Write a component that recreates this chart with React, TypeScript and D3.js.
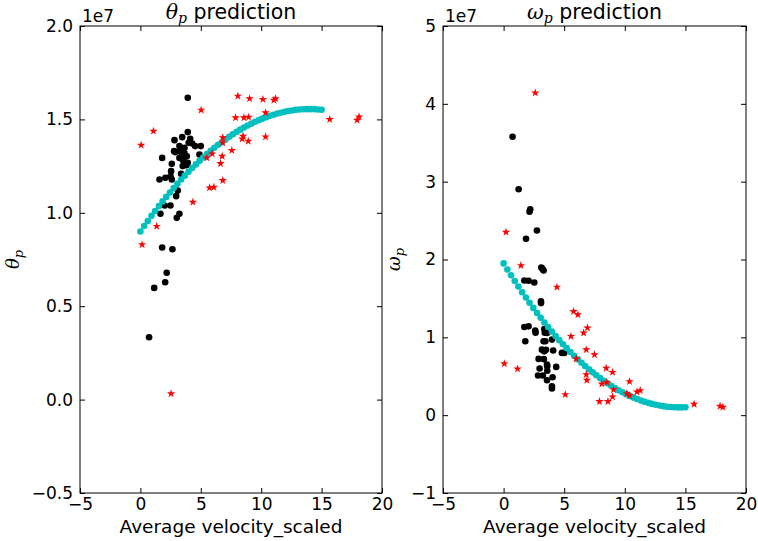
import React, { useRef, useEffect } from 'react';
import * as d3 from 'd3';

const WIDTH = 758;
const HEIGHT = 541;

// axis ticks
const xTicks = [-5, 0, 5, 10, 15, 20];
const thetaTicks = [-0.5, 0, 0.5, 1, 1.5, 2];
const thetaTickLabels = ['\u22120.5', '0.0', '0.5', '1.0', '1.5', '2.0'];
const omegaTicks = [-1, 0, 1, 2, 3, 4, 5];
const omegaTickLabels = ['\u22121', '0', '1', '2', '3', '4', '5'];

// fitted curve (values in 1e7)
const fitX = [
  0, 0.31, 0.61, 0.92, 1.22, 1.53, 1.84, 2.14, 2.45, 2.76, 3.06, 3.37, 3.67, 3.98, 4.29, 4.59, 4.9,
  5.2, 5.51, 5.82, 6.12, 6.43, 6.73, 7.04, 7.35, 7.65, 7.96, 8.27, 8.57, 8.88, 9.18, 9.49, 9.8,
  10.1, 10.41, 10.71, 11.02, 11.33, 11.63, 11.94, 12.24, 12.55, 12.86, 13.16, 13.47, 13.78, 14.08,
  14.39, 14.69, 15.0,
];
const thetaFit = [
  0.9, 0.929, 0.956, 0.984, 1.01, 1.036, 1.061, 1.085, 1.109, 1.133, 1.155, 1.178, 1.199, 1.22,
  1.24, 1.259, 1.278, 1.296, 1.314, 1.332, 1.348, 1.364, 1.378, 1.393, 1.407, 1.42, 1.433, 1.445,
  1.457, 1.467, 1.477, 1.487, 1.496, 1.504, 1.512, 1.519, 1.525, 1.531, 1.536, 1.541, 1.545, 1.548,
  1.551, 1.553, 1.554, 1.555, 1.555, 1.555, 1.553, 1.552,
];
const omegaFit = [
  1.95, 1.872, 1.798, 1.723, 1.652, 1.58, 1.511, 1.444, 1.378, 1.313, 1.252, 1.19, 1.132, 1.074,
  1.017, 0.964, 0.911, 0.861, 0.811, 0.763, 0.718, 0.673, 0.631, 0.59, 0.55, 0.513, 0.476, 0.441,
  0.409, 0.378, 0.349, 0.321, 0.294, 0.27, 0.247, 0.226, 0.207, 0.188, 0.172, 0.158, 0.145, 0.133,
  0.124, 0.116, 0.109, 0.105, 0.102, 0.1, 0.1, 0.102,
];

// theta_p: observed (black) and held out (red)
const thetaTrainX = [
  3.92, 3.92, 3.46, 4.12, 2.82, 4.29, 3.23, 3.65, 4.53, 5.0, 2.79, 3.23, 3.65, 3.46, 4.89, 3.84,
  3.23, 3.5, 1.8, 3.65, 3.92, 2.6, 3.5, 3.8, 2.54, 3.37, 1.58, 2.07, 2.49, 2.6, 3.09, 2.96, 2.01,
  2.49, 1.66, 3.23, 3.01, 1.8, 2.65, 2.18, 2.05, 1.14, 0.72, 4.0, 2.88, 3.57,
];
const thetaTrainY = [
  1.616, 1.432, 1.405, 1.396, 1.389, 1.371, 1.357, 1.348, 1.357, 1.357, 1.33, 1.33, 1.32, 1.312,
  1.312, 1.303, 1.294, 1.285, 1.294, 1.268, 1.268, 1.262, 1.25, 1.255, 1.223, 1.209, 1.178, 1.187,
  1.196, 1.178, 1.119, 1.089, 1.039, 1.039, 0.995, 0.995, 0.973, 0.814, 0.805, 0.679, 0.628, 0.598,
  0.334, 1.375, 1.325, 1.277,
];
const thetaTestX = [
  0.06, 1.08, 5.03, 1.35, 0.14, 4.34, 5.5, 5.94, 5.72, 6.08, 6.63, 6.77, 6.82, 6.82, 6.82, 7.57,
  8.07, 9.04, 7.88, 8.57, 8.96, 8.43, 8.5, 8.93, 10.14, 11.05, 11.19, 10.36, 10.36, 15.67, 17.94,
  18.1, 2.54,
];
const thetaTestY = [
  1.362, 1.437, 1.55, 0.928, 0.83, 1.057, 1.294, 1.316, 1.134, 1.137, 1.264, 1.303, 1.375, 1.402,
  1.173, 1.334, 1.625, 1.611, 1.509, 1.509, 1.512, 1.396, 1.41, 1.384, 1.607, 1.603, 1.611, 1.536,
  1.407, 1.5, 1.496, 1.514, 0.032,
];

// omega_p: observed (black) and held out (red)
const omegaTrainX = [
  0.74, 1.24, 2.14, 2.2, 2.75, 1.85, 3.11, 3.2, 3.3, 1.71, 2.06, 2.53, 3.08, 3.09, 1.71, 2.06, 2.61,
  2.64, 3.36, 1.79, 3.4, 3.44, 3.99, 3.16, 3.35, 3.5, 4.09, 4.81, 5.0, 2.89, 3.32, 3.58, 3.6, 2.97,
  4.34, 2.84, 3.24, 4.04, 3.58, 3.99, 3.99, 3.6, 3.58, 3.3,
];
const omegaTrainY = [
  3.577, 2.903, 2.615, 2.646, 2.372, 2.265, 1.897, 1.88, 1.859, 1.731, 1.727, 1.705, 1.462, 1.44,
  1.133, 1.141, 1.086, 1.06, 1.108, 0.949, 1.06, 0.949, 0.971, 0.842, 0.82, 0.84, 0.83, 0.8, 0.8,
  0.723, 0.72, 0.65, 0.63, 0.599, 0.62, 0.509, 0.51, 0.487, 0.449, 0.372, 0.342, 0.57, 1.056, 0.95,
];
const omegaTestX = [
  2.61, 0.2, 1.43, 4.4, 5.77, 6.13, 6.92, 6.6, 5.56, 6.82, 7.5, 5.99, 0.06, 1.15, 8.47, 8.99, 6.82,
  6.87, 10.39, 8.11, 8.52, 9.07, 10.17, 10.39, 11.0, 11.27, 5.09, 8.99, 7.91, 8.61, 15.72, 17.86,
  18.09,
];
const omegaTestY = [
  4.141, 2.351, 1.923, 1.646, 1.333, 1.291, 1.121, 1.056, 1.013, 0.842, 0.778, 0.723, 0.663, 0.595,
  0.603, 0.551, 0.522, 0.449, 0.432, 0.402, 0.423, 0.329, 0.278, 0.253, 0.3, 0.317, 0.265, 0.236,
  0.176, 0.176, 0.141, 0.115, 0.103,
];

const FONT = 'DejaVu Sans, sans-serif';
const MATH = 'DejaVu Serif, serif';

interface PanelSpec {
  left: number;
  right: number;
  top: number;
  bottom: number;
  yLabelX: number;
  yDomain: [number, number];
  yTicks: number[];
  yTickLabels: string[];
  symbol: string;
  fit: number[];
  trainX: number[];
  trainY: number[];
  testX: number[];
  testY: number[];
}

function drawPanel(svg: d3.Selection<SVGSVGElement, unknown, null, undefined>, p: PanelSpec) {
  const x = d3.scaleLinear().domain([-5, 20]).range([p.left, p.right]);
  const y = d3.scaleLinear().domain(p.yDomain).range([p.bottom, p.top]);
  const g = svg.append('g');

  // observed points
  g.selectAll('.train')
    .data(d3.zip(p.trainX, p.trainY))
    .join('circle')
    .attr('class', 'train')
    .attr('cx', d => x(d[0]))
    .attr('cy', d => y(d[1]))
    .attr('r', 3.3)
    .attr('fill', '#000');

  // fitted curve as dots
  g.selectAll('.fit')
    .data(d3.zip(fitX, p.fit))
    .join('circle')
    .attr('class', 'fit')
    .attr('cx', d => x(d[0]))
    .attr('cy', d => y(d[1]))
    .attr('r', 3.3)
    .attr('fill', '#00bfbf');

  // held-out stars
  const star = d3.symbol().type(d3.symbolStar).size(22);
  g.selectAll('.test')
    .data(d3.zip(p.testX, p.testY))
    .join('path')
    .attr('class', 'test')
    .attr('d', star)
    .attr('transform', d => `translate(${x(d[0])},${y(d[1])})`)
    .attr('fill', '#ff0000');

  const styleAxis = (a: d3.Selection<SVGGElement, unknown, null, undefined>) => {
    a.select('.domain').remove();
    a.attr('font-family', FONT).attr('font-size', 17);
    a.selectAll('line').attr('stroke', '#000');
    a.selectAll('text').attr('fill', '#000');
  };

  g.append('g')
    .attr('transform', `translate(0,${p.bottom})`)
    .call(d3.axisBottom(x).tickValues(xTicks).tickSize(-5).tickPadding(5).tickFormat(d3.format('d')))
    .call(styleAxis);
  g.append('g')
    .attr('transform', `translate(0,${p.top})`)
    .call(d3.axisTop(x).tickValues(xTicks).tickSize(-5).tickFormat(() => ''))
    .call(styleAxis);
  g.append('g')
    .attr('transform', `translate(${p.left},0)`)
    .call(
      d3
        .axisLeft(y)
        .tickValues(p.yTicks)
        .tickSize(-5)
        .tickPadding(7)
        .tickFormat((_, i) => p.yTickLabels[i])
    )
    .call(styleAxis);
  g.append('g')
    .attr('transform', `translate(${p.right},0)`)
    .call(d3.axisRight(y).tickValues(p.yTicks).tickSize(-5).tickFormat(() => ''))
    .call(styleAxis);

  // frame
  g.append('rect')
    .attr('x', p.left)
    .attr('y', p.top)
    .attr('width', p.right - p.left)
    .attr('height', p.bottom - p.top)
    .attr('fill', 'none')
    .attr('stroke', '#000')
    .attr('stroke-width', 1);

  const cx = (p.left + p.right) / 2;

  // title
  const title = g
    .append('text')
    .attr('x', cx)
    .attr('y', p.top - 7)
    .attr('text-anchor', 'middle')
    .attr('font-family', FONT)
    .attr('font-size', 20.5);
  title.append('tspan').attr('font-family', MATH).attr('font-style', 'italic').text(p.symbol);
  title.append('tspan').attr('font-family', MATH).attr('font-style', 'italic').attr('font-size', 14).attr('dy', 4).text('p');
  title.append('tspan').attr('dy', -4).text(' prediction');

  // offset text
  g.append('text')
    .attr('x', p.left + 2)
    .attr('y', p.top - 4)
    .attr('font-family', FONT)
    .attr('font-size', 17)
    .text('1e7');

  // x label
  g.append('text')
    .attr('x', cx)
    .attr('y', p.bottom + 40)
    .attr('text-anchor', 'middle')
    .attr('font-family', FONT)
    .attr('font-size', 18.5)
    .text('Average velocity_scaled');

  // y label
  const ylab = g
    .append('text')
    .attr('transform', `translate(${p.yLabelX},${(p.top + p.bottom) / 2}) rotate(-90)`)
    .attr('text-anchor', 'middle')
    .attr('font-family', MATH)
    .attr('font-style', 'italic')
    .attr('font-size', 18);
  ylab.append('tspan').text(p.symbol);
  ylab.append('tspan').attr('font-size', 13).attr('dy', 4).text('p');
}

const App: React.FC = () => {
  const svgRef = useRef<SVGSVGElement>(null);

  useEffect(() => {
    if (!svgRef.current) return;
    const svg = d3.select(svgRef.current);
    svg.selectAll('*').remove();

    svg.append('rect').attr('width', WIDTH).attr('height', HEIGHT).attr('fill', '#fff');

    drawPanel(svg, {
      left: 80,
      right: 382,
      top: 26,
      bottom: 493,
      yLabelX: 19,
      yDomain: [-0.5, 2],
      yTicks: thetaTicks,
      yTickLabels: thetaTickLabels,
      symbol: '\u03b8',
      fit: thetaFit,
      trainX: thetaTrainX,
      trainY: thetaTrainY,
      testX: thetaTestX,
      testY: thetaTestY,
    });
    drawPanel(svg, {
      left: 443,
      right: 746,
      top: 26,
      bottom: 493,
      yLabelX: 400,
      yDomain: [-1, 5],
      yTicks: omegaTicks,
      yTickLabels: omegaTickLabels,
      symbol: '\u03c9',
      fit: omegaFit,
      trainX: omegaTrainX,
      trainY: omegaTrainY,
      testX: omegaTestX,
      testY: omegaTestY,
    });
  }, []);

  return (
    <div style={{ position: 'absolute', left: 0, top: 0 }}>
      <svg ref={svgRef} width={WIDTH} height={HEIGHT} style={{ display: 'block' }} />
    </div>
  );
};

export default App;
